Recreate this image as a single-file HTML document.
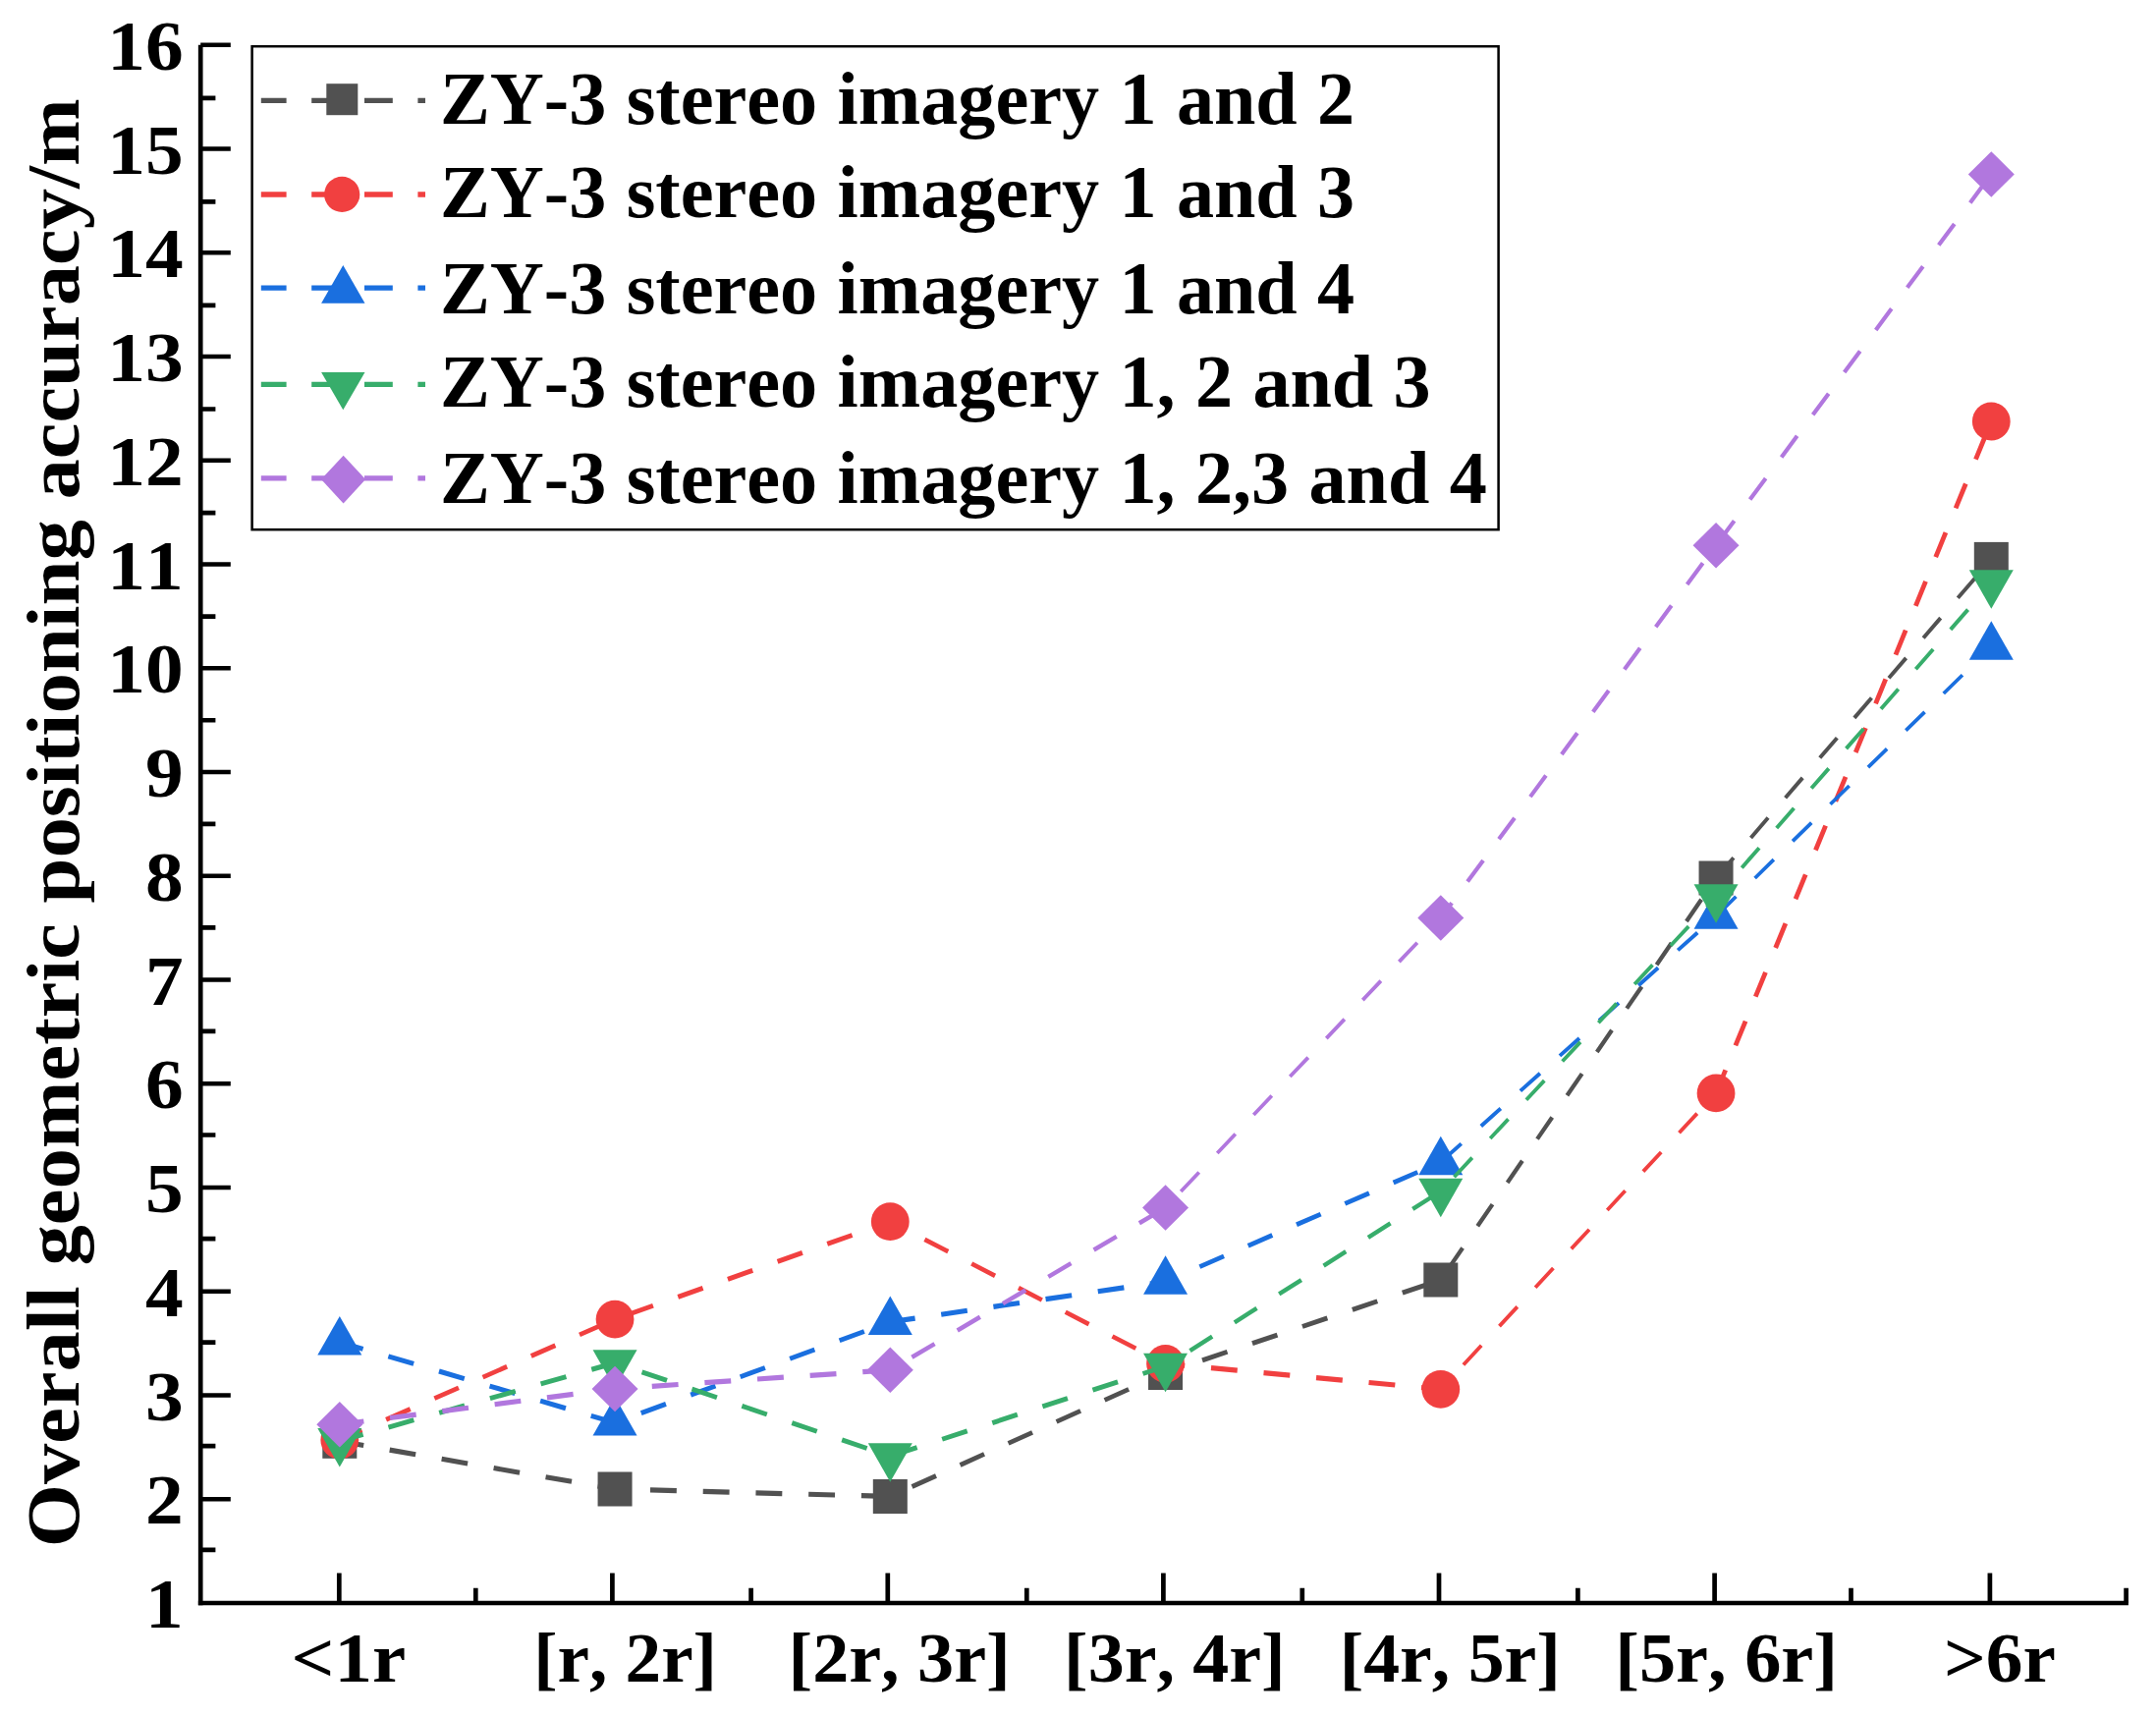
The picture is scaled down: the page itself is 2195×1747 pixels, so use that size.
<!DOCTYPE html>
<html><head><meta charset="utf-8"><title>chart</title>
<style>
html,body{margin:0;padding:0;background:#fff;}
body{width:2195px;height:1747px;overflow:hidden;}
svg{display:block;}
text{font-family:"Liberation Serif","Times New Roman",serif;font-weight:bold;fill:#000;font-kerning:none;}
.tk{font-size:72px;}
.lg{font-size:76.2px;word-spacing:1.3px;}
.yt{font-size:77px;}
</style></head><body>
<svg width="2195" height="1747" viewBox="0 0 2195 1747">
<rect x="0" y="0" width="2195" height="1747" fill="#fff"/>
<line x1="345.80" y1="1467.30" x2="626.05" y2="1516.00" stroke="#515151" stroke-width="5.12" stroke-dasharray="26.875 26.875" stroke-dashoffset="2.10"/>
<line x1="626.05" y1="1516.00" x2="906.30" y2="1523.50" stroke="#515151" stroke-width="5.20" stroke-dasharray="26.875 26.875" stroke-dashoffset="17.80"/>
<line x1="906.30" y1="1523.50" x2="1186.55" y2="1397.50" stroke="#515151" stroke-width="4.74" stroke-dasharray="26.875 26.875" stroke-dashoffset="29.40"/>
<line x1="1186.55" y1="1397.50" x2="1466.80" y2="1303.00" stroke="#515151" stroke-width="4.93" stroke-dasharray="26.875 26.875" stroke-dashoffset="14.17"/>
<line x1="1466.80" y1="1303.00" x2="1747.05" y2="894.00" stroke="#515151" stroke-width="4.29" stroke-dasharray="26.875 26.875" stroke-dashoffset="41.18"/>
<line x1="1747.05" y1="894.00" x2="2027.30" y2="569.40" stroke="#515151" stroke-width="3.94" stroke-dasharray="26.875 26.875" stroke-dashoffset="53.23"/>
<rect x="328.30" y="1449.80" width="35" height="35" fill="#515151"/>
<rect x="608.55" y="1498.50" width="35" height="35" fill="#515151"/>
<rect x="888.80" y="1506.00" width="35" height="35" fill="#515151"/>
<rect x="1169.05" y="1380.00" width="35" height="35" fill="#515151"/>
<rect x="1449.30" y="1285.50" width="35" height="35" fill="#515151"/>
<rect x="1729.55" y="876.50" width="35" height="35" fill="#515151"/>
<rect x="2009.80" y="551.90" width="35" height="35" fill="#515151"/>
<line x1="345.80" y1="1466.00" x2="626.05" y2="1343.10" stroke="#F14040" stroke-width="4.76" stroke-dasharray="26.875 26.875" stroke-dashoffset="2.10"/>
<line x1="626.05" y1="1343.10" x2="906.30" y2="1243.70" stroke="#F14040" stroke-width="4.90" stroke-dasharray="26.875 26.875" stroke-dashoffset="39.36"/>
<line x1="906.30" y1="1243.70" x2="1186.55" y2="1388.40" stroke="#F14040" stroke-width="4.62" stroke-dasharray="26.875 26.875" stroke-dashoffset="14.22"/>
<line x1="1186.55" y1="1388.40" x2="1466.80" y2="1414.30" stroke="#F14040" stroke-width="5.18" stroke-dasharray="26.875 26.875" stroke-dashoffset="7.12"/>
<line x1="1466.80" y1="1414.30" x2="1747.05" y2="1112.90" stroke="#F14040" stroke-width="3.81" stroke-dasharray="26.875 26.875" stroke-dashoffset="19.82"/>
<line x1="1747.05" y1="1112.90" x2="2027.30" y2="429.00" stroke="#F14040" stroke-width="4.81" stroke-dasharray="26.875 26.875" stroke-dashoffset="1.38"/>
<circle cx="345.80" cy="1466.00" r="19.4" fill="#F14040"/>
<circle cx="626.05" cy="1343.10" r="19.4" fill="#F14040"/>
<circle cx="906.30" cy="1243.70" r="19.4" fill="#F14040"/>
<circle cx="1186.55" cy="1388.40" r="19.4" fill="#F14040"/>
<circle cx="1466.80" cy="1414.30" r="19.4" fill="#F14040"/>
<circle cx="1747.05" cy="1112.90" r="19.4" fill="#F14040"/>
<circle cx="2027.30" cy="429.00" r="19.4" fill="#F14040"/>
<line x1="345.80" y1="1366.40" x2="626.05" y2="1448.40" stroke="#1A6FDF" stroke-width="4.99" stroke-dasharray="26.875 26.875" stroke-dashoffset="2.10"/>
<line x1="626.05" y1="1448.40" x2="906.30" y2="1345.80" stroke="#1A6FDF" stroke-width="4.88" stroke-dasharray="26.875 26.875" stroke-dashoffset="25.35"/>
<line x1="906.30" y1="1345.80" x2="1186.55" y2="1304.70" stroke="#1A6FDF" stroke-width="5.14" stroke-dasharray="26.875 26.875" stroke-dashoffset="1.29"/>
<line x1="1186.55" y1="1304.70" x2="1466.80" y2="1183.10" stroke="#1A6FDF" stroke-width="4.77" stroke-dasharray="26.875 26.875" stroke-dashoffset="15.79"/>
<line x1="1466.80" y1="1183.10" x2="1747.05" y2="932.70" stroke="#1A6FDF" stroke-width="3.88" stroke-dasharray="26.875 26.875" stroke-dashoffset="52.53"/>
<line x1="1747.05" y1="932.70" x2="2027.30" y2="658.50" stroke="#1A6FDF" stroke-width="3.72" stroke-dasharray="26.875 26.875" stroke-dashoffset="52.10"/>
<polygon points="345.80,1340.07 368.30,1379.57 323.30,1379.57" fill="#1A6FDF"/>
<polygon points="626.05,1422.07 648.55,1461.57 603.55,1461.57" fill="#1A6FDF"/>
<polygon points="906.30,1319.47 928.80,1358.97 883.80,1358.97" fill="#1A6FDF"/>
<polygon points="1186.55,1278.37 1209.05,1317.87 1164.05,1317.87" fill="#1A6FDF"/>
<polygon points="1466.80,1156.77 1489.30,1196.27 1444.30,1196.27" fill="#1A6FDF"/>
<polygon points="1747.05,906.37 1769.55,945.87 1724.55,945.87" fill="#1A6FDF"/>
<polygon points="2027.30,632.17 2049.80,671.67 2004.80,671.67" fill="#1A6FDF"/>
<line x1="345.80" y1="1467.20" x2="626.05" y2="1387.50" stroke="#37AD6B" stroke-width="5.00" stroke-dasharray="26.875 26.875" stroke-dashoffset="2.10"/>
<line x1="626.05" y1="1387.50" x2="906.30" y2="1482.50" stroke="#37AD6B" stroke-width="4.92" stroke-dasharray="26.875 26.875" stroke-dashoffset="24.71"/>
<line x1="906.30" y1="1482.50" x2="1186.55" y2="1391.00" stroke="#37AD6B" stroke-width="4.94" stroke-dasharray="26.875 26.875" stroke-dashoffset="51.88"/>
<line x1="1186.55" y1="1391.00" x2="1466.80" y2="1212.80" stroke="#37AD6B" stroke-width="4.39" stroke-dasharray="26.875 26.875" stroke-dashoffset="24.19"/>
<line x1="1466.80" y1="1212.80" x2="1747.05" y2="913.40" stroke="#37AD6B" stroke-width="3.80" stroke-dasharray="26.875 26.875" stroke-dashoffset="33.79"/>
<line x1="1747.05" y1="913.40" x2="2027.30" y2="593.50" stroke="#37AD6B" stroke-width="3.91" stroke-dasharray="26.875 26.875" stroke-dashoffset="13.89"/>
<polygon points="345.80,1493.53 368.30,1454.03 323.30,1454.03" fill="#37AD6B"/>
<polygon points="626.05,1413.83 648.55,1374.33 603.55,1374.33" fill="#37AD6B"/>
<polygon points="906.30,1508.83 928.80,1469.33 883.80,1469.33" fill="#37AD6B"/>
<polygon points="1186.55,1417.33 1209.05,1377.83 1164.05,1377.83" fill="#37AD6B"/>
<polygon points="1466.80,1239.13 1489.30,1199.63 1444.30,1199.63" fill="#37AD6B"/>
<polygon points="1747.05,939.73 1769.55,900.23 1724.55,900.23" fill="#37AD6B"/>
<polygon points="2027.30,619.83 2049.80,580.33 2004.80,580.33" fill="#37AD6B"/>
<line x1="345.80" y1="1450.20" x2="626.05" y2="1413.90" stroke="#B177DE" stroke-width="5.16" stroke-dasharray="26.875 26.875" stroke-dashoffset="2.10"/>
<line x1="626.05" y1="1413.90" x2="906.30" y2="1394.80" stroke="#B177DE" stroke-width="5.19" stroke-dasharray="26.875 26.875" stroke-dashoffset="15.94"/>
<line x1="906.30" y1="1394.80" x2="1186.55" y2="1229.50" stroke="#B177DE" stroke-width="4.48" stroke-dasharray="26.875 26.875" stroke-dashoffset="28.09"/>
<line x1="1186.55" y1="1229.50" x2="1466.80" y2="934.50" stroke="#B177DE" stroke-width="3.77" stroke-dasharray="26.875 26.875" stroke-dashoffset="30.96"/>
<line x1="1466.80" y1="934.50" x2="1747.05" y2="555.20" stroke="#B177DE" stroke-width="4.18" stroke-dasharray="26.875 26.875" stroke-dashoffset="7.86"/>
<line x1="1747.05" y1="555.20" x2="2027.30" y2="177.40" stroke="#B177DE" stroke-width="4.18" stroke-dasharray="26.875 26.875" stroke-dashoffset="49.46"/>
<polygon points="345.80,1426.95 369.30,1450.20 345.80,1473.45 322.30,1450.20" fill="#B177DE"/>
<polygon points="626.05,1390.65 649.55,1413.90 626.05,1437.15 602.55,1413.90" fill="#B177DE"/>
<polygon points="906.30,1371.55 929.80,1394.80 906.30,1418.05 882.80,1394.80" fill="#B177DE"/>
<polygon points="1186.55,1206.25 1210.05,1229.50 1186.55,1252.75 1163.05,1229.50" fill="#B177DE"/>
<polygon points="1466.80,911.25 1490.30,934.50 1466.80,957.75 1443.30,934.50" fill="#B177DE"/>
<polygon points="1747.05,531.95 1770.55,555.20 1747.05,578.45 1723.55,555.20" fill="#B177DE"/>
<polygon points="2027.30,154.15 2050.80,177.40 2027.30,200.65 2003.80,177.40" fill="#B177DE"/>
<g stroke="#000" stroke-width="4.7" fill="none" stroke-linecap="butt">
<path d="M204.2,45.75 V1634.35"/>
<path d="M201.85,1632.0 H2166.90"/>
<path d="M204.2,1526.25 H234.8 M204.2,1420.50 H234.8 M204.2,1314.75 H234.8 M204.2,1209.00 H234.8 M204.2,1103.25 H234.8 M204.2,997.50 H234.8 M204.2,891.75 H234.8 M204.2,786.00 H234.8 M204.2,680.25 H234.8 M204.2,574.50 H234.8 M204.2,468.75 H234.8 M204.2,363.00 H234.8 M204.2,257.25 H234.8 M204.2,151.50 H234.8 M204.2,45.75 H234.8 M204.2,1577.79 H219.4 M204.2,1472.22 H219.4 M204.2,1366.65 H219.4 M204.2,1261.08 H219.4 M204.2,1155.51 H219.4 M204.2,1049.94 H219.4 M204.2,944.37 H219.4 M204.2,838.80 H219.4 M204.2,733.23 H219.4 M204.2,627.65 H219.4 M204.2,522.08 H219.4 M204.2,416.51 H219.4 M204.2,310.94 H219.4 M204.2,205.37 H219.4 M204.2,99.80 H219.4 M345.3,1632.0 V1601.50 M623.4,1632.0 V1601.50 M903.8,1632.0 V1601.50 M1184.4,1632.0 V1601.50 M1465.0,1632.0 V1601.50 M1745.6,1632.0 V1601.50 M2025.9,1632.0 V1601.50 M484.3,1632.0 V1616.80 M764.6,1632.0 V1616.80 M1045.3,1632.0 V1616.80 M1325.8,1632.0 V1616.80 M1606.4,1632.0 V1616.80 M1884.5,1632.0 V1616.80 M2164.6,1632.0 V1616.80 "/>
</g>
<text class="tk" transform="translate(186.6,1657.00) scale(1.075,1)" text-anchor="end">1</text>
<text class="tk" transform="translate(186.6,1551.25) scale(1.075,1)" text-anchor="end">2</text>
<text class="tk" transform="translate(186.6,1445.50) scale(1.075,1)" text-anchor="end">3</text>
<text class="tk" transform="translate(186.6,1339.75) scale(1.075,1)" text-anchor="end">4</text>
<text class="tk" transform="translate(186.6,1234.00) scale(1.075,1)" text-anchor="end">5</text>
<text class="tk" transform="translate(186.6,1128.25) scale(1.075,1)" text-anchor="end">6</text>
<text class="tk" transform="translate(186.6,1022.50) scale(1.075,1)" text-anchor="end">7</text>
<text class="tk" transform="translate(186.6,916.75) scale(1.075,1)" text-anchor="end">8</text>
<text class="tk" transform="translate(186.6,811.00) scale(1.075,1)" text-anchor="end">9</text>
<text class="tk" transform="translate(186.6,705.25) scale(1.075,1)" text-anchor="end">10</text>
<text class="tk" transform="translate(186.6,599.50) scale(1.075,1)" text-anchor="end">11</text>
<text class="tk" transform="translate(186.6,493.75) scale(1.075,1)" text-anchor="end">12</text>
<text class="tk" transform="translate(186.6,388.00) scale(1.075,1)" text-anchor="end">13</text>
<text class="tk" transform="translate(186.6,282.25) scale(1.075,1)" text-anchor="end">14</text>
<text class="tk" transform="translate(186.6,176.50) scale(1.075,1)" text-anchor="end">15</text>
<text class="tk" transform="translate(186.6,70.75) scale(1.075,1)" text-anchor="end">16</text>
<text class="tk" transform="translate(354.9,1711.8) scale(1.07,1)" text-anchor="middle">&lt;1r</text>
<text class="tk" transform="translate(636.6,1711.8) scale(1.016,1)" text-anchor="middle">[r, 2r]</text>
<text class="tk" transform="translate(915.6,1711.8) scale(1.029,1)" text-anchor="middle">[2r, 3r]</text>
<text class="tk" transform="translate(1195.9,1711.8) scale(1.026,1)" text-anchor="middle">[3r, 4r]</text>
<text class="tk" transform="translate(1476.2,1711.8) scale(1.024,1)" text-anchor="middle">[4r, 5r]</text>
<text class="tk" transform="translate(1757.6,1711.8) scale(1.031,1)" text-anchor="middle">[5r, 6r]</text>
<text class="tk" transform="translate(2035.9,1711.8) scale(1.045,1)" text-anchor="middle">&gt;6r</text>
<text class="yt" transform="translate(80.4,837.8) rotate(-90)" text-anchor="middle" textLength="1475" lengthAdjust="spacingAndGlyphs">Overall geometric positioning accuracy/m</text>
<rect x="256.6" y="47.2" width="1269.00" height="492.00" fill="#fff" stroke="#000" stroke-width="2.5"/>
<path d="M265.8,102.40 H291.6 M317.2,102.40 H349.0 M371.0,102.40 H399.8 M425.4,102.40 H433" stroke="#515151" stroke-width="5.3" fill="none"/>
<rect x="332.30" y="85.20" width="32" height="32" fill="#515151"/>
<text class="lg" x="448.0" y="125.70">ZY-3 stereo imagery 1 and 2</text>
<path d="M265.8,198.00 H291.6 M317.2,198.00 H349.0 M371.0,198.00 H399.8 M425.4,198.00 H433" stroke="#F14040" stroke-width="5.3" fill="none"/>
<circle cx="348.20" cy="197.90" r="18.1" fill="#F14040"/>
<text class="lg" x="448.0" y="220.70">ZY-3 stereo imagery 1 and 3</text>
<path d="M265.8,293.20 H291.6 M317.2,293.20 H349.0 M371.0,293.20 H399.8 M425.4,293.20 H433" stroke="#1A6FDF" stroke-width="5.3" fill="none"/>
<polygon points="349.30,269.90 371.50,308.70 327.10,308.70" fill="#1A6FDF"/>
<text class="lg" x="448.0" y="318.50">ZY-3 stereo imagery 1 and 4</text>
<path d="M265.8,391.40 H291.6 M317.2,391.40 H349.0 M371.0,391.40 H399.8 M425.4,391.40 H433" stroke="#37AD6B" stroke-width="5.3" fill="none"/>
<polygon points="349.30,417.20 371.50,378.90 327.10,378.90" fill="#37AD6B"/>
<text class="lg" x="448.0" y="414.00">ZY-3 stereo imagery 1, 2 and 3</text>
<path d="M265.8,486.90 H291.6 M317.2,486.90 H349.0 M371.0,486.90 H399.8 M425.4,486.90 H433" stroke="#B177DE" stroke-width="5.3" fill="none"/>
<polygon points="349.60,463.65 372.20,488.10 349.60,512.55 327.00,488.10" fill="#B177DE"/>
<text class="lg" x="448.0" y="512.00">ZY-3 stereo imagery 1, 2,3 and 4</text>
</svg></body></html>
